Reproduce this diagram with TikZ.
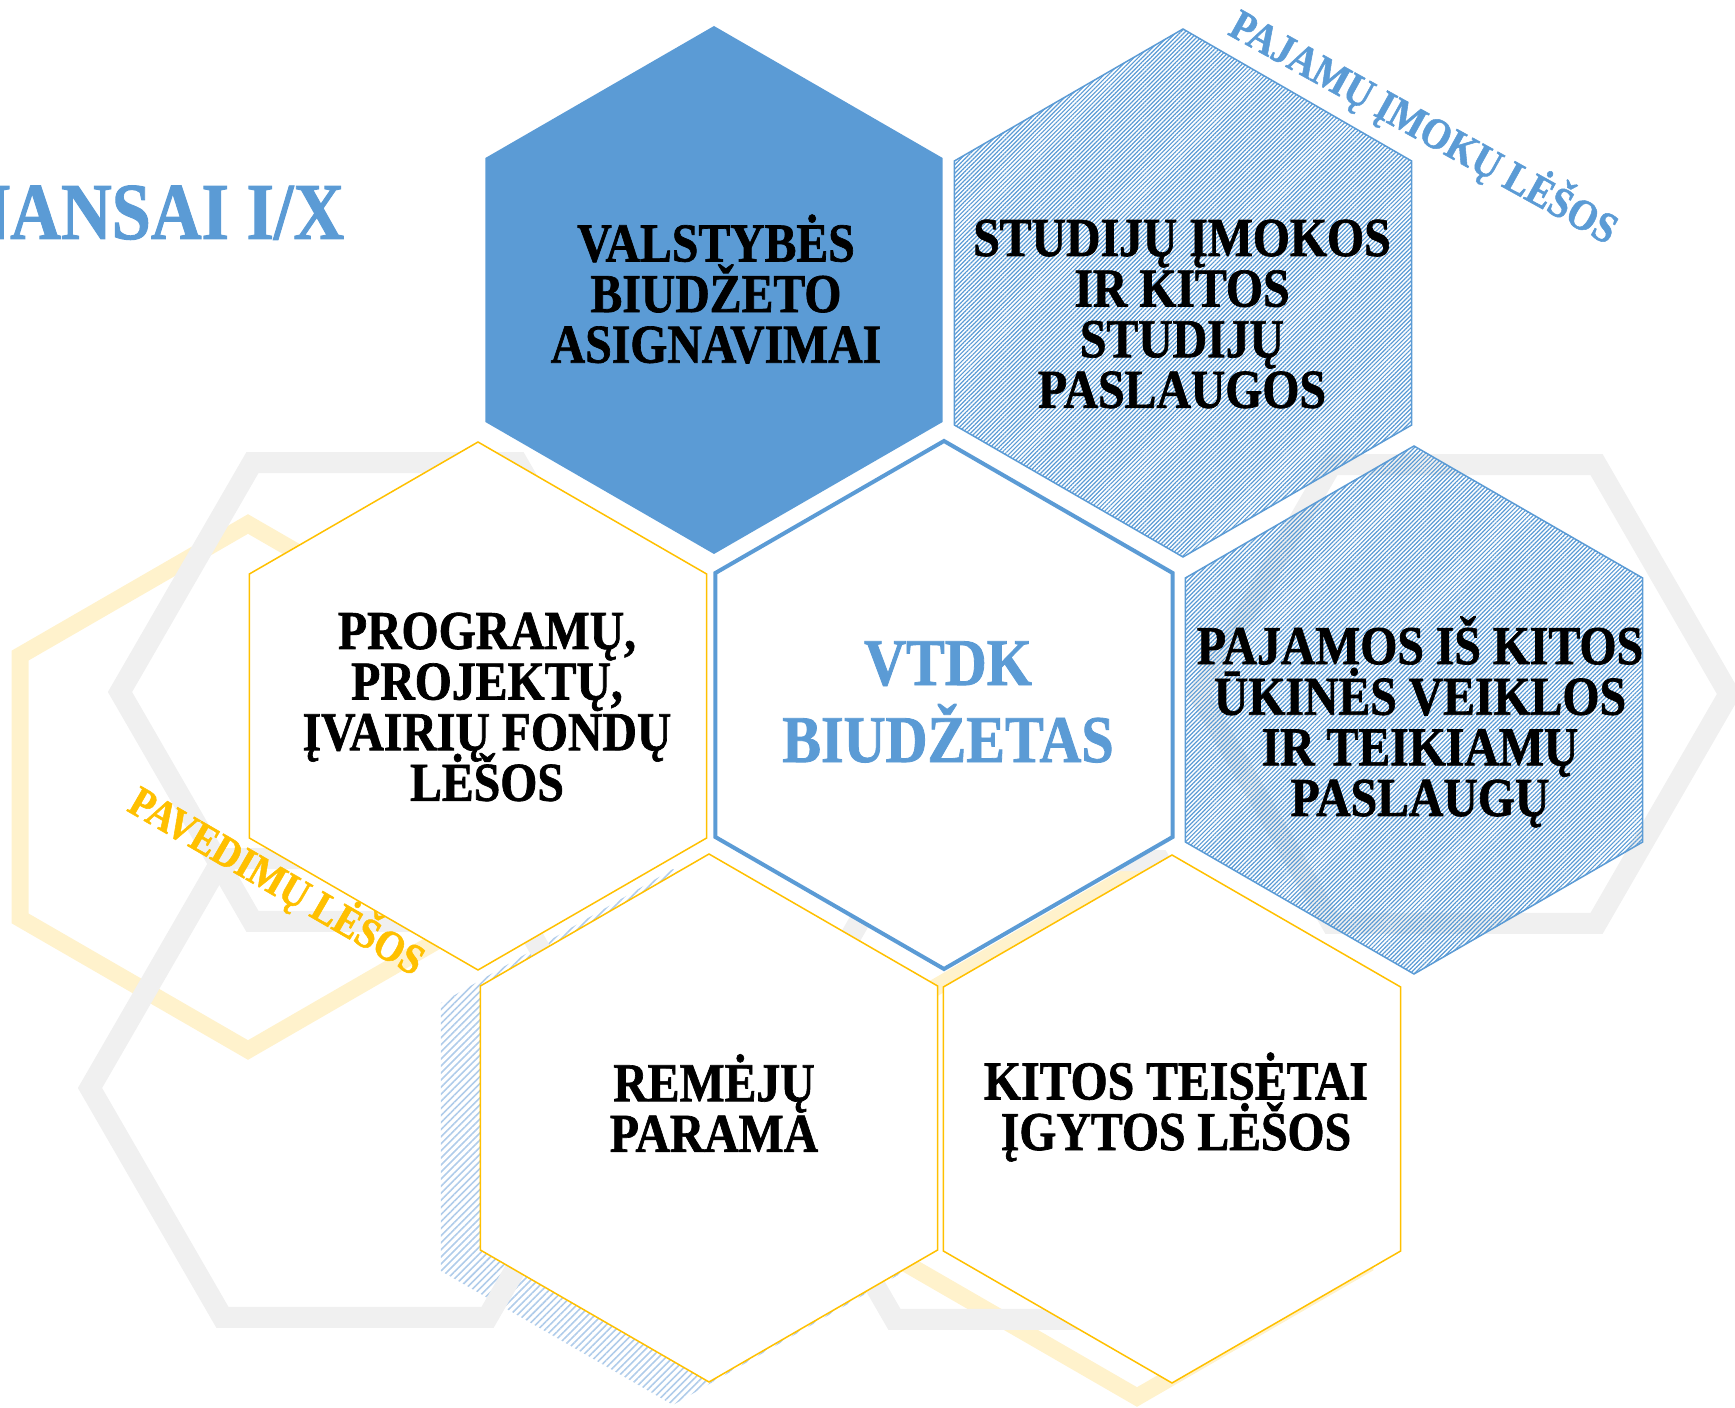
\documentclass[tikz,border=0pt]{standalone}
\usepackage{fontspec}
\setmainfont{Liberation Serif}[FakeStretch=0.87, BoldFeatures={FakeBold=1.2}]
\usetikzlibrary{shapes.geometric, patterns.meta}
\definecolor{vtdkblue}{HTML}{5B9BD5}
\definecolor{gold}{HTML}{FFC000}
\definecolor{palegold}{HTML}{FFF2CC}
\definecolor{ringgray}{HTML}{F0F0F0}
\definecolor{softblue}{HTML}{B0CCEA}

\begin{document}
\lineskiplimit=-\maxdimen
\begin{tikzpicture}[x=0.1mm, y=-0.1mm,
    hexa/.style={regular polygon, regular polygon sides=6, shape border rotate=30, minimum size=52.8mm, inner sep=0pt, outer sep=0pt},
    grayring/.style={regular polygon, regular polygon sides=6, minimum size=53mm, inner sep=0pt, draw=ringgray, line width=2.1mm},
    goldring/.style={hexa, minimum size=52.6mm, draw=palegold, line width=1.7mm},
    softhex/.style={hexa, minimum size=53.6mm, pattern={Lines[angle=45, distance=0.5mm, line width=0.16mm]}, pattern color=softblue},
    solidhex/.style={hexa, fill=vtdkblue},
    whitehex/.style={hexa, fill=white, draw=gold, line width=0.15mm},
    hatchhex/.style={hexa, draw=vtdkblue, line width=0.15mm, pattern={Lines[angle=45, distance=0.3mm, line width=0.12mm]}, pattern color=vtdkblue},
    txt/.style={font=\fontsize{15.6}{14.4}\selectfont\bfseries, align=center, inner sep=0pt},
    slanted/.style={font=\fontsize{12.4}{14}\selectfont\bfseries, inner sep=0pt}]
  \clip (0,0) rectangle (1735,1408);

  % background
  \node[softhex] (shadow) at (673,1137) {};
  \node[goldring] (yleft) at (248,787) {};
  \node[goldring] (ybot) at (1137,1134) {};
  \node[grayring] (gleft) at (385,692) {};
  \node[grayring] (gright) at (1464,694) {};
  \node[grayring] (gbotleft) at (355,1088) {};
  \node[grayring] (gbotright) at (1027,1090) {};

  % honeycomb
  \node[solidhex] (valst) at (714,290) {};
  \node[hatchhex] (studij) at (1183,293) {};
  \node[whitehex] (progr) at (478,706) {};
  \node[hexa, fill=white, draw=vtdkblue, line width=0.4mm] (vtdk) at (944,705) {};
  \node[hatchhex] (pajam) at (1414,710) {};
  \node[whitehex] (remej) at (709,1118) {};
  \node[whitehex] (kitos) at (1172,1119) {};

  \node[txt] (valst-t) at (716,289) {VALSTYBĖS\\BIUDŽETO\\ASIGNAVIMAI};
  \node[txt] (studij-t) at (1182,314) {STUDIJŲ ĮMOKOS\\IR KITOS\\STUDIJŲ\\PASLAUGOS};
  \node[txt] (progr-t) at (487,707) {PROGRAMŲ,\\PROJEKTŲ,\\ĮVAIRIŲ FONDŲ\\LĖŠOS};
  \node[txt, font=\fontsize{19}{21.9}\selectfont\bfseries, text=vtdkblue] (vtdk-t) at (948,702) {VTDK\\BIUDŽETAS};
  \node[txt] (pajam-t) at (1420,722) {PAJAMOS IŠ KITOS\\ŪKINĖS VEIKLOS\\IR TEIKIAMŲ\\PASLAUGŲ};
  \node[txt] (remej-t) at (714,1103) {REMĖJŲ\\PARAMA};
  \node[txt] (kitos-t) at (1176,1107) {KITOS TEISĖTAI\\ĮGYTOS LĖŠOS};

  \node[font=\fontsize{23}{24}\selectfont\bfseries, text=vtdkblue, anchor=base east, inner sep=0pt] (finans) at (345,239) {FINANSAI I/X};
  \node[slanted, text=vtdkblue, rotate=-29] (pajamu) at (1424,127) {PAJAMŲ ĮMOKŲ LĖŠOS};
  \node[slanted, text=gold, rotate=-30] (pavedimu) at (277,881) {PAVEDIMŲ LĖŠOS};
\end{tikzpicture}
\end{document}
